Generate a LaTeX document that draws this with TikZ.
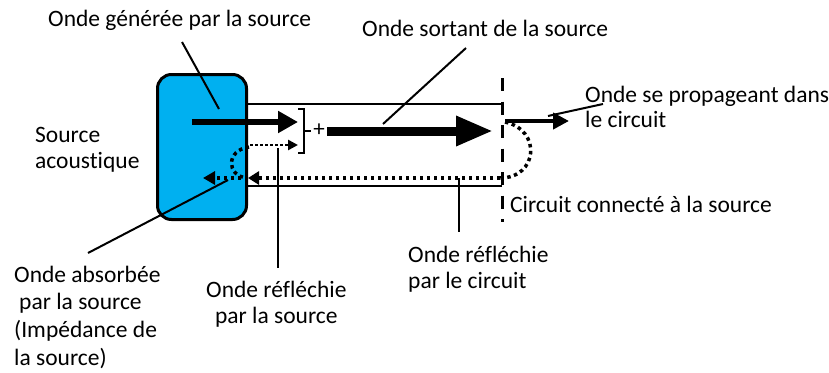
\documentclass[tikz,border=0pt]{standalone}
\usepackage{fontspec}
\setmainfont[Ligatures={NoCommon}]{Carlito}
\usetikzlibrary{arrows.meta}
\definecolor{srcblue}{HTML}{00B0F0}
\newcommand{\mylinesL}[1]{\begin{tabular}[t]{@{}l@{}}#1\end{tabular}}
\newcommand{\mylinesC}[1]{\begin{tabular}[t]{@{}c@{}}#1\end{tabular}}
\begin{document}
\begin{tikzpicture}[x=1pt,y=-1pt,
  lbl/.style={font=\fontsize{23.5}{26}\selectfont, inner sep=0pt, anchor=base west},
  leader/.style={line width=2pt},
  tube/.style={line width=2.8pt},
  dotline/.style={line width=3.5pt, dash pattern=on 3.5pt off 3.5pt},
]
\useasboundingbox (0,0) rectangle (829,372);

% source box
\node[draw, line width=3pt, fill=srcblue, rounded corners=14pt,
      minimum width=89pt, minimum height=145pt, inner sep=0pt] (src) at (202,147) {};

% tube
\coordinate (tl) at (247,104);
\coordinate (tr) at (502,104);
\coordinate (bl) at (247,186);
\coordinate (br) at (502,186);
\draw[tube] (tl) -- (tr);
\draw[tube] (bl) -- (br);

% dashed boundary
\coordinate (dtop) at (502,78);
\coordinate (dbot) at (502,222);
\draw[line width=3pt, dash pattern=on 13pt off 10.5pt] (dtop) -- (dbot);

% generated wave
\coordinate (g1) at (192,122);
\coordinate (g2) at (298,122);
\draw[line width=5.5pt, -{Triangle[length=20pt,width=21pt]}] (g1) -- (g2);

% reflected by source (small dotted)
\coordinate (r1) at (250,145);
\coordinate (r2) at (298,145);
\draw[line width=2.5pt, dash pattern=on 2.5pt off 2.5pt, -{Triangle[length=10pt,width=10pt]}] (r1) -- (r2);

% bracket and plus
\coordinate (bk1) at (298,109);
\coordinate (bk2) at (304,109);
\coordinate (bk3) at (304,153);
\coordinate (bk4) at (298,153);
\coordinate (bkm) at (304,131);
\coordinate (bkt) at (311,131);
\draw[line width=2pt] (bk1) -- (bk2) -- (bk3) -- (bk4);
\draw[line width=1.5pt] (bkm) -- (bkt);
\node[font=\fontsize{23}{23}\selectfont, inner sep=0pt] (plus) at (319,130) {+};

% outgoing wave
\coordinate (o1) at (327,131);
\coordinate (o2) at (493,131);
\draw[line width=9pt, -{Triangle[length=37pt,width=28pt]}] (o1) -- (o2);

% propagating in circuit
\coordinate (p1) at (505,121);
\coordinate (p2) at (569,121);
\draw[line width=4.5pt, -{Triangle[length=16pt,width=16pt]}] (p1) -- (p2);

% reflected by circuit (dotted return)
\coordinate (c1) at (505,122);
\coordinate (c2) at (500,178);
\coordinate (c3) at (248,178);
\coordinate (c4) at (203,178);
\draw[dotline] (c1) .. controls (542,130) and (538,178) .. (c2);
\draw[dotline, -{Triangle[length=11pt,width=13pt]}] (c2) -- (c3);
\draw[dotline, -{Triangle[length=12pt,width=13pt]}] (c3) -- (c4);

% source reflection loop
\coordinate (l1) at (249,147);
\coordinate (l2) at (247,178);
\draw[dotline] (l1) .. controls (226,150) and (226,176) .. (l2);

% labels
\node[lbl] (tgen) at (48,27) {Onde générée par la source};
\node[lbl] (tsort) at (362,36) {Onde sortant de la source};
\node[lbl, font=\fontsize{23.5}{25}\selectfont] (tprop) at (585,102) {\mylinesL{Onde se propageant dans\\le circuit}};
\node[lbl] (tsrc) at (35,142) {\mylinesL{Source\\acoustique}};
\node[lbl] (tcirc) at (510,212) {Circuit connecté à la source};
\node[lbl] (trc) at (408,262) {\mylinesL{Onde réfléchie\\par le circuit}};
\node[lbl] (trs) at (206,297) {\mylinesC{Onde réfléchie\\par la source}};
\node[lbl, font=\fontsize{23.5}{27.7}\selectfont] (tabs) at (14,282) {\mylinesL{Onde absorbée\\\hspace{5pt}par la source\\(Impédance de\\la source)}};

% leader lines
\coordinate (gA) at (182,42);   \coordinate (gB) at (219,109);
\coordinate (sA) at (466,48);   \coordinate (sB) at (383,124);
\coordinate (pA) at (603,104);  \coordinate (pB) at (548,116);
\coordinate (aA) at (228,180);  \coordinate (aB) at (88,253);
\coordinate (rsA) at (278,148); \coordinate (rsB) at (278,268);
\coordinate (rcA) at (459,178); \coordinate (rcB) at (459,232);
\draw[leader] (gA) -- (gB);
\draw[leader] (sA) -- (sB);
\draw[leader] (pA) -- (pB);
\draw[leader] (aA) -- (aB);
\draw[leader] (rsA) -- (rsB);
\draw[leader] (rcA) -- (rcB);
\end{tikzpicture}
\end{document}
